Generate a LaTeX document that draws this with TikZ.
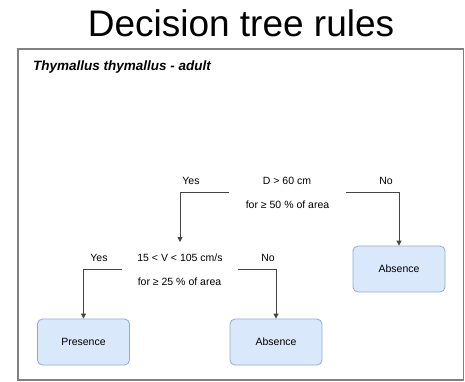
\documentclass[tikz,border=0pt]{standalone}
\usepackage{fontspec}
\setmainfont{Liberation Sans}
\usetikzlibrary{arrows.meta}
\definecolor{boxfill}{HTML}{DAE8FC}
\definecolor{boxline}{HTML}{8FAAD6}
\definecolor{frameline}{HTML}{808080}
\definecolor{edgeline}{HTML}{444444}
\begin{document}
\begin{tikzpicture}[x=1pt,y=-1pt,
  leaf/.style={draw=boxline,fill=boxfill,rounded corners=5pt,line width=0.8pt,
    minimum width=92pt,minimum height=46pt,inner sep=0pt,font=\fontsize{10.5}{12}\selectfont},
  lbl/.style={inner sep=0pt,font=\fontsize{10.5}{12}\selectfont},
  edge/.style={draw=edgeline,line width=0.9pt,-{Triangle[length=5pt,width=5pt]}}]
\useasboundingbox (0,0) rectangle (465,381);
\fill[white] (0,0) rectangle (465,381);
\node[inner sep=0pt,font=\fontsize{37}{40}\selectfont] (title) at (241,23) {Decision tree rules};
\draw[frameline,line width=1.5pt] (18,49) rectangle (463.5,380);
\node[inner sep=0pt,anchor=west,font=\fontsize{13.5}{15}\selectfont\bfseries\itshape] (sub) at (33,67) {Thymallus thymallus - adult};
% root
\node[lbl] (d) at (287,181) {D > 60 cm};
\node[lbl] (d2) at (287.5,205) {for ≥ 50 \% of area};
\node[lbl] (y1) at (191,181) {Yes};
\node[lbl] (n1) at (386,181) {No};
\coordinate (r1) at (229,192);
\coordinate (r2) at (346,192);
% second
\node[lbl] (v) at (180,258) {15 < V < 105 cm/s};
\node[lbl] (v2) at (179.5,282) {for ≥ 25 \% of area};
\node[lbl] (y2) at (99,258) {Yes};
\node[lbl] (n2) at (268,258) {No};
\coordinate (s1) at (122,269);
\coordinate (s2) at (238,269);
\coordinate (vtop) at (180,242);
% leaves
\node[leaf] (abs1) at (399,269) {Absence};
\node[leaf] (pres) at (83.5,342) {Presence};
\node[leaf] (abs2) at (276,342) {Absence};
% edges
\draw[edge] (r1) -| (vtop);
\draw[edge] (r2) -| (abs1.north);
\draw[edge] (s1) -| (pres.north);
\draw[edge] (s2) -| (abs2.north);
\end{tikzpicture}
\end{document}
